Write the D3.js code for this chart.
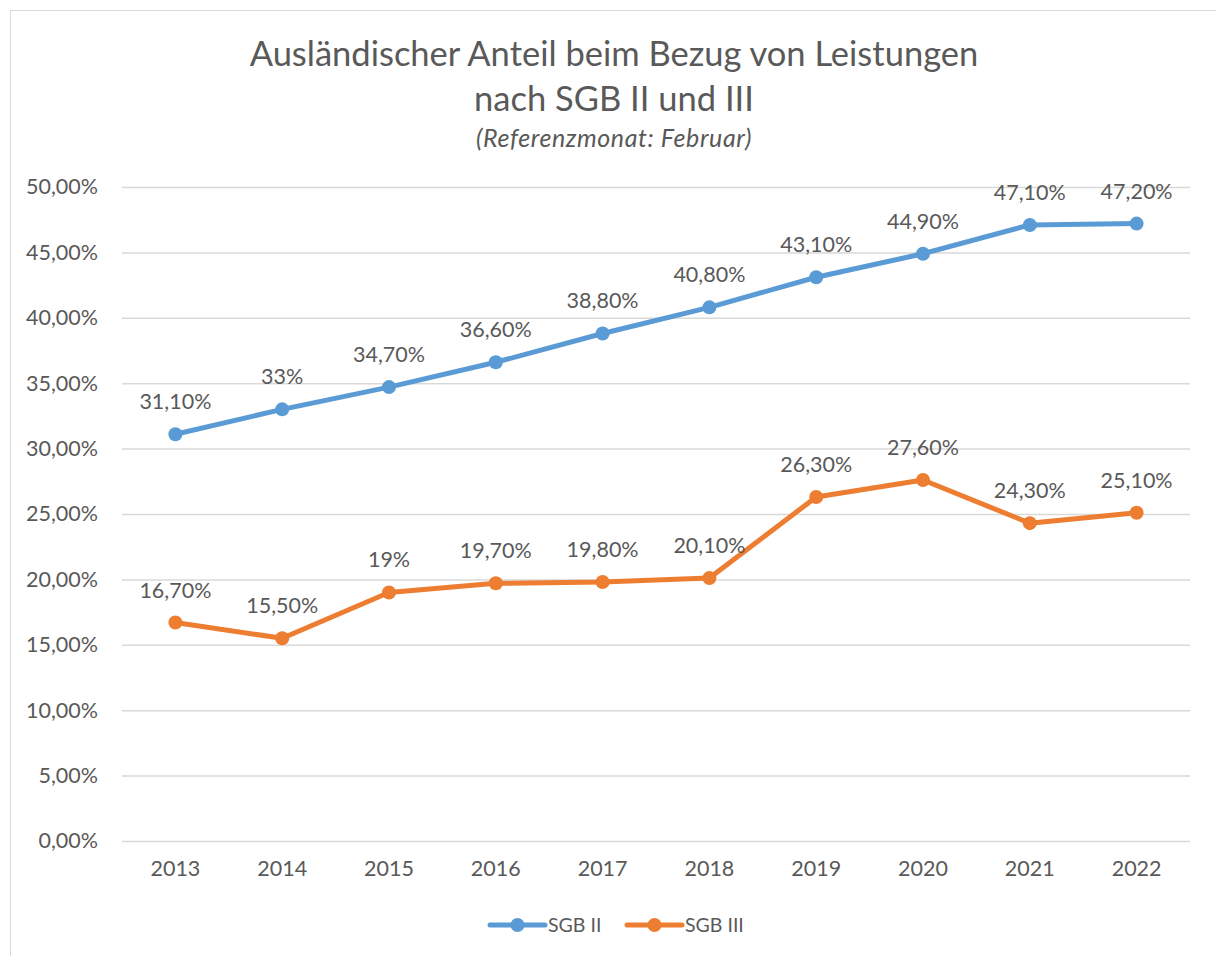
<!DOCTYPE html>
<html>
<head>
<meta charset="utf-8">
<script src="https://cdn.jsdelivr.net/npm/d3@7"></script>
<style>
  body { margin: 0; background: #fff; }
  text { font-family: Lato, "Open Sans", sans-serif; fill: #595959; }
</style>
</head>
<body>
<svg id="chart" width="1216" height="956"></svg>
<script>
const years = ["2013", "2014", "2015", "2016", "2017", "2018", "2019", "2020", "2021", "2022"];
const sgb2 = [31.1, 33, 34.7, 36.6, 38.8, 40.8, 43.1, 44.9, 47.1, 47.2];
const sgb3 = [16.7, 15.5, 19, 19.7, 19.8, 20.1, 26.3, 27.6, 24.3, 25.1];
const yTicks = [0, 5, 10, 15, 20, 25, 30, 35, 40, 45, 50];
const seriesNames = ["SGB II", "SGB III"];
const seriesColors = ["#5b9bd5", "#ed7d31"];

const svg = d3.select("#chart");

// outer chart frame (only top/left edges are visible in the picture)
svg.append("rect")
    .attr("x", 10.5).attr("y", 10.5)
    .attr("width", 1240).attr("height", 980)
    .attr("fill", "none").attr("stroke", "#d9d9d9");

const margin = {left: 122, right: 1190, top: 187, bottom: 841};

const x = d3.scaleBand().domain(years).range([margin.left, margin.right]);
const y = d3.scaleLinear().domain([0, 50]).range([margin.bottom, margin.top]);

// percentage formats in German style
const tickFmt = v => v.toFixed(2).replace(".", ",") + "%";
const labelFmt = v => Number.isInteger(v) ? v + "%" : v.toFixed(2).replace(".", ",") + "%";

// gridlines + y labels
const yAxis = svg.append("g")
    .attr("transform", `translate(${margin.left},0)`)
    .call(d3.axisLeft(y).tickValues(yTicks).tickFormat(tickFmt)
        .tickSize(-(margin.right - margin.left)).tickPadding(24));
yAxis.select(".domain").remove();
yAxis.selectAll(".tick line").attr("stroke", "#d9d9d9").attr("stroke-width", 1.5);
yAxis.selectAll(".tick text")
    .attr("font-size", 21.5).attr("fill", "#595959")
    .style("font-family", "Lato, sans-serif");

// x labels
const xAxis = svg.append("g")
    .attr("transform", `translate(0,${margin.bottom})`)
    .call(d3.axisBottom(x).tickSize(0).tickPadding(20));
xAxis.select(".domain").remove();
xAxis.selectAll(".tick text")
    .attr("font-size", 21.5).attr("fill", "#595959")
    .style("font-family", "Lato, sans-serif");

const cx = d => x(d) + x.bandwidth() / 2;
const line = d3.line().x((v, i) => cx(years[i])).y(v => y(v));

[sgb2, sgb3].forEach((vals, s) => {
    const g = svg.append("g");
    g.append("path")
        .datum(vals)
        .attr("d", line)
        .attr("fill", "none")
        .attr("stroke", seriesColors[s])
        .attr("stroke-width", 5)
        .attr("stroke-linejoin", "round")
        .attr("stroke-linecap", "round");
    g.selectAll("circle")
        .data(vals)
        .join("circle")
        .attr("cx", (v, i) => cx(years[i]))
        .attr("cy", v => y(v))
        .attr("r", 7)
        .attr("fill", seriesColors[s]);
    g.selectAll("text")
        .data(vals)
        .join("text")
        .attr("x", (v, i) => cx(years[i]))
        .attr("y", v => y(v) - 25)
        .attr("text-anchor", "middle")
        .attr("font-size", 21.5)
        .text(labelFmt);
});

// title
svg.append("text").attr("x", 614).attr("y", 66)
    .attr("text-anchor", "middle").attr("font-size", 34.5)
    .text("Ausländischer Anteil beim Bezug von Leistungen");
svg.append("text").attr("x", 614).attr("y", 111)
    .attr("text-anchor", "middle").attr("font-size", 34.5)
    .text("nach SGB II und III");
svg.append("text").attr("x", 614).attr("y", 147)
    .attr("text-anchor", "middle").attr("font-size", 25)
    .attr("font-style", "italic")
    .attr("letter-spacing", 0.6)
    .text("(Referenzmonat: Februar)");

// legend
const legend = svg.append("g").attr("transform", "translate(0,925)");
const legendX = [490, 627];
seriesNames.forEach((name, s) => {
    const lg = legend.append("g").attr("transform", `translate(${legendX[s]},0)`);
    lg.append("line").attr("x1", 0).attr("x2", 55).attr("y1", 0).attr("y2", 0)
        .attr("stroke", seriesColors[s]).attr("stroke-width", 5).attr("stroke-linecap", "round");
    lg.append("circle").attr("cx", 27.5).attr("cy", 0).attr("r", 7).attr("fill", seriesColors[s]);
    lg.append("text").attr("x", 58).attr("y", 7).attr("font-size", 19.5).text(name);
});
</script>
</body>
</html>
